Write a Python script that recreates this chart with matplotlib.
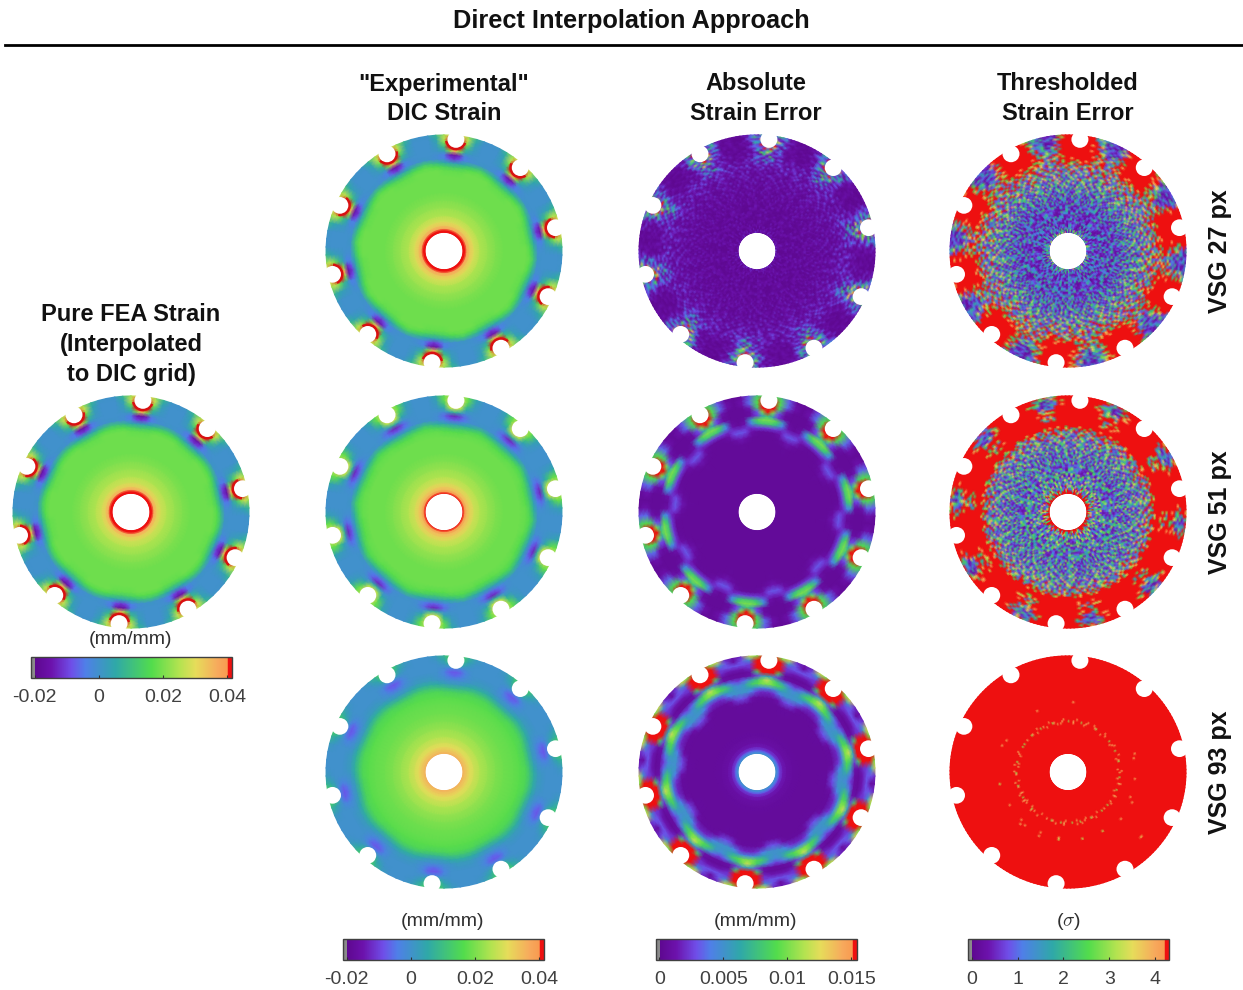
import numpy as np
import matplotlib
matplotlib.use("Agg")
import matplotlib.pyplot as plt
from matplotlib.cm import ScalarMappable
from matplotlib.colors import LinearSegmentedColormap, Normalize
from matplotlib.patches import Circle, Wedge

plt.rcParams["font.family"] = ["Liberation Sans", "DejaVu Sans"]
plt.rcParams["mathtext.fontset"] = "cm"

W, H = 1243, 990

# rings (px from disk centre) and degrees away from the nearest notch
R_IN = [19, 21, 23, 26, 30, 36, 44, 52, 60]
R_OUT = [70, 76, 82, 86, 90, 94, 98, 102, 106, 110, 114, 118]
OFFSETS = [-18, -14, -10, -6, -3, 0, 3, 6, 10, 14]
NOTCH_START = 12
NOTCHES = 10

# strain fields, in units of 0.001 mm/mm. Columns: 18, 14, 10, 6, 3, 0 deg from notch
fea_in = [60, 46, 37, 32, 28, 25, 22.5, 20.5, 19]
fea_out = [
    [19, 19, 19, 19, 19, 19],
    [19, 19, 19, 19, 19, 19],
    [19, 19, 19, 18, 18, 18],
    [17, 17, 16, 14, 13, 12],
    [11, 10, 8, 5, 4, 3],
    [1, 0, -1, -4, -9, -11],
    [0, 0, -1, -5, -14, -17],
    [0, 0, 1, 4, 20, 35],
    [0, 0, 2, 10, 45, 45],
    [0, 0, 3, 20, 45, 45],
    [0, 0, 5, 27, 45, 45],
    [0, 1, 8, 24, 30, 30],
]
exp27_in = [60, 45, 38, 33, 29, 25, 22.5, 20.5, 19]
exp27_out = [
    [19, 19, 19, 19, 19, 19],
    [19, 19, 19, 19, 19, 19],
    [19, 19, 19, 18, 18, 18],
    [18, 17, 16, 14, 13, 12],
    [12, 10, 8, 5, 4, 3],
    [1, 0, -1, -3, -8, -11],
    [0, 0, -1, -4, -13, -16],
    [0, 0, 1, 4, 20, 35],
    [0, 0, 2, 10, 45, 45],
    [0, 0, 3, 20, 45, 45],
    [0, 0, 5, 26, 45, 45],
    [0, 1, 8, 24, 30, 30],
]
exp51_in = [46, 40, 35, 32, 28, 25, 22.5, 20.5, 19]
exp51_out = [
    [19, 19, 19, 19, 19, 19],
    [19, 19, 19, 19, 19, 19],
    [18, 18, 18, 17, 17, 17],
    [16, 15, 14, 13, 12, 11],
    [10, 8, 6, 4, 3, 3],
    [1, 0, -1, -4, -6, -7],
    [0, 0, -1, -6, -11, -13],
    [0, 0, 0, -1, 3, 8],
    [0, 0, 1, 5, 24, 30],
    [0, 0, 2, 12, 30, 30],
    [0, 0, 3, 18, 30, 30],
    [0, 0, 5, 18, 25, 25],
]
exp93_in = [36, 34, 33, 30, 28, 25, 22.5, 20.5, 19]
exp93_out = [
    [18, 18, 18, 18, 18, 18],
    [17, 17, 17, 17, 17, 17],
    [15, 15, 15, 14, 14, 14],
    [11, 11, 10, 9, 8, 8],
    [6, 6, 5, 3, 2, 2],
    [2, 2, 1, 0, -1, -1],
    [1, 1, 0, -2, -5, -6],
    [0, 0, 0, -3, -7, -8],
    [0, 0, 0, -1, -3, -3],
    [0, 0, 0, 2, 6, 8],
    [0, 0, 1, 5, 12, 14],
    [0, 0, 2, 8, 14, 14],
]

# absolute error, in units of 0.001 mm/mm
err27_in = [1.0, 0.8, 0.65, 0.6, 0.6, 0.6, 0.6, 0.65, 0.7]
err27_out = [
    [0.8, 0.8, 0.8, 0.8, 0.8, 0.8],
    [0.9, 0.9, 0.9, 0.9, 0.9, 0.9],
    [1.1, 1.1, 1.1, 1.1, 1.1, 1.1],
    [1.2, 1.2, 1.2, 1.3, 1.3, 1.3],
    [1.2, 1.2, 1.4, 1.8, 2.2, 2.2],
    [1.0, 1.0, 1.2, 2, 3.5, 3.5],
    [0.7, 0.7, 0.9, 1.8, 3, 4],
    [0.5, 0.5, 0.8, 2, 5, 8],
    [0.5, 0.5, 0.8, 3, 9, 12],
    [0.5, 0.5, 1.0, 4, 9, 9],
    [0.5, 0.5, 1.2, 4, 9, 9],
    [0.5, 0.5, 1.5, 4, 6, 6],
]
err51_in = [0.6, 0.5, 0.5, 0.5, 0.5, 0.5, 0.5, 0.5, 0.5]
err51_out = [
    [0.6, 0.5, 0.5, 0.5, 0.5, 0.5],
    [1.5, 1.0, 0.6, 0.5, 0.5, 0.5],
    [3.2, 2.8, 1.2, 0.7, 0.6, 0.6],
    [2.0, 2.2, 2, 2.5, 2.5, 2.5],
    [0.6, 1.2, 4, 7, 8, 8],
    [0.5, 0.8, 5, 9, 10, 10],
    [0.5, 0.5, 1, 2.5, 6, 8],
    [0.5, 0.5, 0.8, 3, 10, 20],
    [0.5, 0.5, 1.5, 8, 24, 24],
    [0.5, 1.2, 3.5, 9, 24, 24],
    [0.5, 1.2, 3.5, 9, 24, 24],
    [0.5, 0.5, 3, 8, 9, 9],
]
err93_in = [5, 4, 2.5, 1.5, 1.0, 0.7, 0.6, 0.6, 0.6]
err93_out = [
    [0.7, 0.7, 0.6, 0.6, 0.6, 0.6],
    [3, 2.5, 1.2, 0.7, 0.7, 0.7],
    [5, 5, 4, 2.5, 2, 2],
    [5, 5.5, 6, 5, 4.5, 4.5],
    [4.5, 5.5, 8, 9, 10, 10],
    [2.5, 3.5, 5.5, 8, 10, 12],
    [0.8, 0.9, 1.2, 2.5, 5, 6],
    [0.6, 0.6, 0.9, 8, 24, 24],
    [1.5, 1.5, 2, 20, 24, 24],
    [3, 3, 2.5, 24, 24, 24],
    [1, 3, 5, 16, 24, 24],
    [1, 2, 12, 10, 20, 20],
]

# thresholded error, local noise level in sigma
thr27_in = [1.6, 1.2, 1.0, 0.8, 0.8, 0.8, 0.85, 0.95, 1.2]
thr27_out = [
    [1.5, 1.5, 1.5, 1.5, 1.5, 1.5],
    [1.9, 1.9, 1.9, 1.9, 1.9, 1.9],
    [2.2, 2.2, 2.3, 2.3, 2.3, 2.3],
    [2.4, 2.6, 2.8, 3, 3, 3],
    [2.5, 3, 4, 6, 6, 6],
    [2.8, 4, 8, 14, 14, 14],
    [2.4, 4, 10, 20, 20, 20],
    [1.4, 2.2, 8, 20, 20, 20],
    [0.9, 1.3, 6, 20, 20, 20],
    [0.8, 0.9, 4, 20, 20, 20],
    [0.8, 0.8, 3, 20, 20, 20],
    [0.8, 0.8, 2, 14, 20, 20],
]
thr51_in = [20, 6, 2.5, 1.8, 1.5, 1.3, 1.2, 1.2, 1.3]
thr51_out = [
    [1.6, 1.5, 1.5, 1.5, 1.5, 1.5],
    [2.2, 2.0, 1.8, 1.8, 1.8, 1.8],
    [4, 3, 2.5, 2.2, 2.2, 2.2],
    [9, 7, 6, 6, 6, 6],
    [22, 22, 22, 22, 22, 22],
    [5, 8, 22, 22, 22, 22],
    [3, 4, 14, 22, 22, 22],
    [8, 12, 22, 22, 22, 22],
    [2, 3, 22, 22, 22, 22],
    [0.9, 1.2, 8, 22, 22, 22],
    [0.9, 1.1, 8, 22, 22, 22],
    [3, 4, 22, 22, 22, 22],
]
thr93_in = [30, 30, 30, 30, 30, 30, 30, 12, 30]
thr93_out = [
    [12, 30, 30, 30, 12, 12],
    [30, 30, 12, 30, 30, 30],
    [30, 30, 30, 30, 30, 30],
    [30, 30, 30, 30, 30, 30],
    [30, 30, 30, 30, 30, 30],
    [30, 30, 30, 30, 30, 30],
    [12, 30, 30, 30, 30, 30],
    [30, 30, 30, 30, 30, 30],
    [30, 30, 30, 30, 30, 30],
    [30, 30, 30, 30, 30, 30],
    [30, 30, 30, 30, 30, 30],
    [30, 30, 30, 30, 30, 30],
]

# speckle read by eye, one notch period: rows go outward, 0 = low, 9 = high
speckle = [
    "31052741306285014736",
    "04273160529173042681",
    "26104837215046293107",
    "13729051482630175924",
    "50241673019284530716",
    "27065138426017392481",
    "41380295163748201567",
    "06517324908125637042",
    "38240169275301846197",
    "12903586140762951304",
    "64128037591420683175",
    "20375914063281740569",
    "51642087319605283417",
    "03918264570142936058",
    "47250136892413067521",
    "18063925417530284690",
    "32714058261907351846",
    "95021346708251490136",
    "26480713593104628750",
    "10357249861326057194",
    "73192504638071425368",
    "04628157290643918205",
    "58310942761205384716",
    "21746083514926073195",
    "60293178405138620947",
    "37051426982750416183",
]
shifts = [0, 7, 3, 11, 18, 5, 14, 22, 9, 16]

strain_ticks = [-0.02, 0, 0.02, 0.04]
strain_labels = ["-0.02", "0", "0.02", "0.04"]
err_ticks = [0, 0.005, 0.01, 0.015]
err_labels = ["0", "0.005", "0.01", "0.015"]
sigma_ticks = [0, 1, 2, 3, 4]
sigma_labels = ["0", "1", "2", "3", "4"]

cmap = LinearSegmentedColormap.from_list("dic", [
    (0.0, "#8a8a8a"), (0.018, "#8a8a8a"), (0.02, "#5e0890"), (0.1, "#6c12ac"),
    (0.2, "#6f4ee8"), (0.27, "#4f7fe8"), (0.42, "#2fa8a8"), (0.6, "#52dc4c"),
    (0.74, "#b4e350"), (0.82, "#e6dc5a"), (0.93, "#f7a95c"), (0.978, "#f89a50"),
    (0.98, "#ee1010"), (1.0, "#ee1010"),
], N=512)
strain_norm = Normalize(-0.0212, 0.0416)
err_norm = Normalize(-0.00025, 0.01545)
sigma_norm = Normalize(-0.08, 4.3)


def px_axes(fig, x0, y0, x1, y1):
    return fig.add_axes([x0 / W, 1 - y1 / H, (x1 - x0) / W, (y1 - y0) / H])


def level_grid(inner, outer):
    # mirror the half table around the notch, then glue the inner rings on
    out = np.array(outer, float)
    half = out[:, ::-1]
    full = np.hstack([out, half[:, 1:5]])
    inn = np.tile(np.array(inner, float)[:, None], (1, full.shape[1]))
    return np.vstack([inn, full])


def speckle_table():
    # the typed period twice over, so the blobs come out about as tall as wide
    digits = np.array([[int(c) for c in row] for row in speckle], float)
    digits = np.vstack([digits, np.roll(digits, 7, axis=1)])
    return 0.25 + 2.25 * (digits / 9) ** 1.5


def draw_disk(ax, inner, outer, norm, scale, noise=False, rim=0, shift0=0):
    rings = np.array(R_IN + R_OUT, float)
    grid = level_grid(inner, outer) * scale
    angles = np.concatenate([np.array(OFFSETS) + NOTCH_START + 36 * k for k in range(NOTCHES)])
    angles = np.append(angles, angles[0] + 360)
    tiled = np.hstack([grid] * NOTCHES + [grid[:, :1]])

    if noise:
        tex = speckle_table()
        rows = np.linspace(19, 118, tex.shape[0])
        cols = NOTCH_START - 18 + np.arange(tex.shape[1] * NOTCHES + 1) * 36 / tex.shape[1]
        by_angle = np.array([np.interp(cols, angles, ring) for ring in tiled])
        level = np.array([np.interp(rows, rings, by_angle[:, j]) for j in range(len(cols))]).T
        noise_grid = np.hstack([np.roll(tex, shifts[k] + shift0, axis=0) for k in range(NOTCHES)])
        noise_grid = np.hstack([noise_grid, noise_grid[:, :1]])
        # near the hole the cells get thin, so hold every second column there
        inner_rows = rows < 50
        noise_grid[np.ix_(inner_rows, np.arange(1, len(cols), 2))] = \
            noise_grid[np.ix_(inner_rows, np.arange(0, len(cols) - 1, 2))]
        values = level * noise_grid
        rr, aa = np.meshgrid(rows, np.radians(cols), indexing="ij")
    else:
        values = tiled
        rr, aa = np.meshgrid(rings, np.radians(angles), indexing="ij")

    ax.pcolormesh(rr * np.cos(aa), rr * np.sin(aa), values, cmap=cmap, norm=norm,
                  shading="gouraud", rasterized=True)

    for k in range(NOTCHES):
        a = NOTCH_START + 36 * k
        nx = 114 * np.cos(np.radians(a))
        ny = 114 * np.sin(np.radians(a))
        if rim:
            ax.add_patch(Wedge((nx, ny), 8.5 + rim, a + 105, a + 255, width=rim + 0.5,
                               color="#d81010", lw=0))
        ax.add_patch(Circle((nx, ny), 8.5, color="white", lw=0))
    ax.set_xlim(-124, 124)
    ax.set_ylim(-124, 124)
    ax.axis("off")


def draw_colorbar(fig, x0, y0, norm, ticks, labels, title, title_y):
    cax = px_axes(fig, x0, y0, x0 + 201, y0 + 21)
    cb = fig.colorbar(ScalarMappable(norm=norm, cmap=cmap), cax=cax, orientation="horizontal")
    cb.set_ticks(ticks)
    cb.set_ticklabels(labels)
    cb.minorticks_off()
    cb.outline.set_edgecolor("#404040")
    cb.outline.set_linewidth(1.0)
    cax.tick_params(axis="x", direction="in", length=2, width=0.8, color="#303030",
                    labelsize=14, labelcolor="#404040", pad=8)
    fig.text((x0 + 100) / W, 1 - title_y / H, title, ha="center", va="center",
             fontsize=14, color="#303030")


def header(fig, x, y, s):
    fig.text(x / W, 1 - y / H, s, ha="center", va="center", fontsize=17,
             fontweight="bold", color="#111111")


fig = plt.figure(figsize=(W / 100, H / 100), dpi=100)

fig.text(631 / W, 1 - 21 / H, "Direct Interpolation Approach", ha="center", va="center",
         fontsize=18.3, fontweight="bold", color="#111111")
fig.add_artist(plt.Line2D([5 / W, 1243 / W], [1 - 45 / H, 1 - 45 / H], color="black", lw=2))

header(fig, 131, 315, "Pure FEA Strain")
header(fig, 131, 345, "(Interpolated")
header(fig, 131, 375, "to DIC grid)")
header(fig, 444, 84, '"Experimental"')
header(fig, 444, 114, "DIC Strain")
header(fig, 756, 84, "Absolute")
header(fig, 756, 114, "Strain Error")
header(fig, 1068, 84, "Thresholded")
header(fig, 1068, 114, "Strain Error")

rows_y = [251, 512, 772]
for y, label in zip(rows_y, ["VSG 27 px", "VSG 51 px", "VSG 93 px"]):
    fig.text(1220 / W, 1 - y / H, label, rotation=90, ha="center", va="center",
             fontsize=18, fontweight="bold", color="#111111")


def disk_axes(cx, cy):
    # the disks are a touch flatter than round in the reference
    return px_axes(fig, cx - 124, cy - 122, cx + 124, cy + 122)


draw_disk(disk_axes(131, 512), fea_in, fea_out, strain_norm, 1e-3, rim=2.5)
draw_disk(disk_axes(444, 251), exp27_in, exp27_out, strain_norm, 1e-3, rim=2.5)
draw_disk(disk_axes(444, 512), exp51_in, exp51_out, strain_norm, 1e-3)
draw_disk(disk_axes(444, 772), exp93_in, exp93_out, strain_norm, 1e-3)
draw_disk(disk_axes(757, 251), err27_in, err27_out, err_norm, 1e-3, noise=True, shift0=2)
draw_disk(disk_axes(757, 512), err51_in, err51_out, err_norm, 1e-3)
draw_disk(disk_axes(757, 772), err93_in, err93_out, err_norm, 1e-3)
draw_disk(disk_axes(1068, 251), thr27_in, thr27_out, sigma_norm, 1.0, noise=True)
draw_disk(disk_axes(1068, 512), thr51_in, thr51_out, sigma_norm, 1.0, noise=True, shift0=9)
draw_disk(disk_axes(1068, 772), thr93_in, thr93_out, sigma_norm, 1.0, noise=True, shift0=4)

draw_colorbar(fig, 31, 657, strain_norm, strain_ticks, strain_labels, "(mm/mm)", 640)
draw_colorbar(fig, 343, 939, strain_norm, strain_ticks, strain_labels, "(mm/mm)", 921)
draw_colorbar(fig, 656, 939, err_norm, err_ticks, err_labels, "(mm/mm)", 921)
draw_colorbar(fig, 968, 939, sigma_norm, sigma_ticks, sigma_labels, r"($\sigma$)", 921)

fig.savefig("out.png", dpi=100)
